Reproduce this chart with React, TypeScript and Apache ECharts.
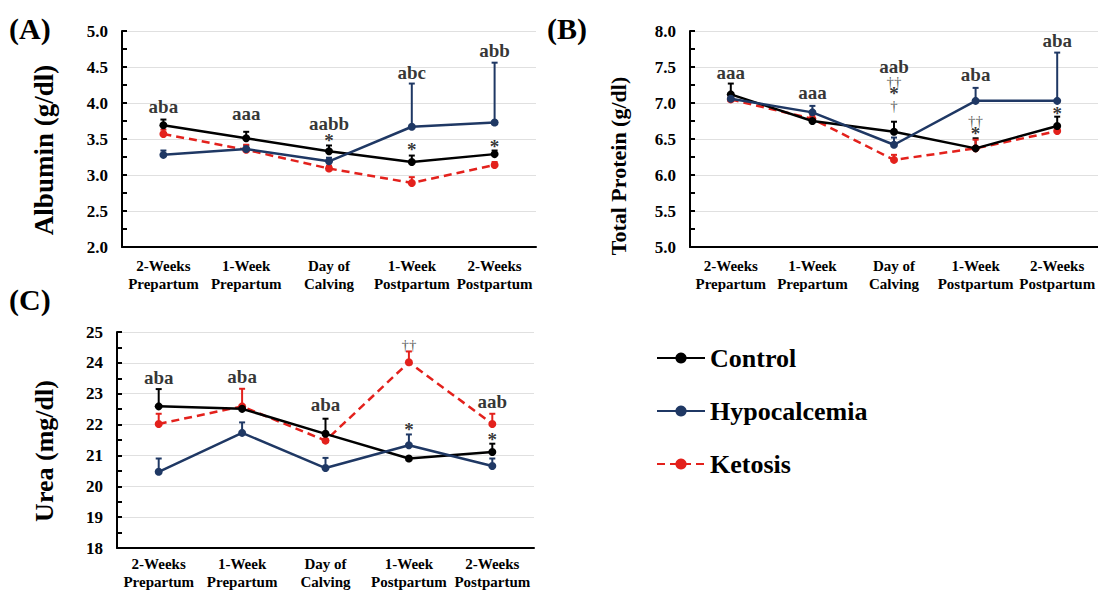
import React, { useEffect, useRef } from 'react';
import * as echarts from 'echarts';

const categories = ['2-Weeks\nPrepartum', '1-Week\nPrepartum', 'Day of\nCalving', '1-Week\nPostpartum', '2-Weeks\nPostpartum'];
const groups = ['Control', 'Hypocalcemia', 'Ketosis'];

// (A) Albumin (g/dl): means and SE (upper bar)
const albuminControl = [3.69, 3.51, 3.33, 3.18, 3.29];
const albuminControlSE = [0.08, 0.09, 0.08, 0.09, 0.05];
const albuminHypo = [3.28, 3.36, 3.19, 3.67, 3.73];
const albuminHypoSE = [0.06, 0.05, 0.05, 0.6, 0.83];
const albuminKeto = [3.57, 3.35, 3.09, 2.89, 3.14];
const albuminKetoSE = [0.06, 0.07, 0.04, 0.08, 0.04];
const albuminTicks = { min: 2, max: 5, interval: 0.5 };
const albuminNotes: [number, number, string][] = [
  [0, 3.95, 'aba'], [1, 3.85, 'aaa'], [2, 3.71, 'aabb'], [2, 3.48, '*'],
  [3, 4.42, 'abc'], [3, 3.35, '*'], [4, 4.73, 'abb'], [4, 3.4, '*'],
];

// (B) Total Protein (g/dl)
const proteinControl = [7.12, 6.75, 6.6, 6.37, 6.68];
const proteinControlSE = [0.15, 0.03, 0.14, 0.14, 0.13];
const proteinHypo = [7.06, 6.87, 6.42, 7.03, 7.03];
const proteinHypoSE = [0.05, 0.09, 0.1, 0.18, 0.67];
const proteinKeto = [7.05, 6.78, 6.21, 6.37, 6.61];
const proteinKetoSE = [0.05, 0.05, 0.07, 0.12, 0.03];
const proteinTicks = { min: 5, max: 8, interval: 0.5 };
const proteinNotes: [number, number, string][] = [
  [0, 7.42, 'aaa'], [1, 7.15, 'aaa'], [2, 7.51, 'aab'], [2, 7.13, '††\n*\n†'],
  [3, 7.4, 'aba'], [3, 6.66, '††\n*'], [4, 7.87, 'aba'], [4, 6.86, '*'],
];

// (C) Urea (mg/dl)
const ureaControl = [22.59, 22.51, 21.7, 20.9, 21.11];
const ureaControlSE = [0.56, 0.05, 0.49, 0.05, 0.27];
const ureaHypo = [20.47, 21.73, 20.59, 21.33, 20.66];
const ureaHypoSE = [0.43, 0.34, 0.33, 0.35, 0.24];
const ureaKeto = [22.02, 22.59, 21.48, 24.02, 22.02];
const ureaKetoSE = [0.33, 0.57, 0.05, 0.35, 0.33];
const ureaTicks = { min: 18, max: 25, interval: 1 };
const ureaNotes: [number, number, string][] = [
  [0, 23.54, 'aba'], [1, 23.56, 'aba'], [2, 22.64, 'aba'], [3, 25.24, 'aab'], [3, 24.59, '††'],
  [3, 21.85, '*'], [4, 22.75, 'aab'], [4, 21.52, '*'],
];

const FONT = '"Liberation Serif", "Times New Roman", serif';
const COLORS = ['#000000', '#1f3864', '#e3211c'];

const panels = [
  {
    label: '(A)', title: 'Albumin (g/dl)', ticks: albuminTicks, notes: albuminNotes, decimals: 1,
    means: [albuminControl, albuminHypo, albuminKeto], ses: [albuminControlSE, albuminHypoSE, albuminKetoSE],
    grid: { left: 122, top: 31, width: 414, height: 216 }, labelMargin: 10,
    titlePos: [44, 150], titleSize: 27, panelPos: [9, 28],
  },
  {
    label: '(B)', title: 'Total Protein (g/dl)', ticks: proteinTicks, notes: proteinNotes, decimals: 1,
    means: [proteinControl, proteinHypo, proteinKeto], ses: [proteinControlSE, proteinHypoSE, proteinKetoSE],
    grid: { left: 690, top: 31, width: 412, height: 216 }, labelMargin: 10,
    titlePos: [618, 166], titleSize: 22, panelPos: [547, 28],
  },
  {
    label: '(C)', title: 'Urea (mg/dl)', ticks: ureaTicks, notes: ureaNotes, decimals: 0,
    means: [ureaControl, ureaHypo, ureaKeto], ses: [ureaControlSE, ureaHypoSE, ureaKetoSE],
    grid: { left: 117, top: 332, width: 417, height: 216 }, labelMargin: 7,
    titlePos: [44, 451], titleSize: 26, panelPos: [9, 299],
  },
];

function noteFormatter(q: any) {
  const t: string = q.value[2];
  return t
    .split('\n')
    .map((line) => {
      if (line.indexOf('†') >= 0) return `{d|${line}}`;
      if (line === '*') return `{s|${line}}`;
      return `{t|${line}}`;
    })
    .join('\n');
}

function buildOption() {
  const grids: any[] = [];
  const xAxes: any[] = [];
  const yAxes: any[] = [];
  const series: any[] = [];
  const graphics: any[] = [];

  panels.forEach((p, i) => {
    grids.push({ ...p.grid, containLabel: false });
    xAxes.push({
      type: 'category', gridIndex: i, data: categories, boundaryGap: true,
      axisLine: { lineStyle: { color: '#000', width: 2 } },
      axisTick: { alignWithLabel: true, length: 5, lineStyle: { color: '#000', width: 2 } },
      axisLabel: {
        interval: 0, color: '#000', fontFamily: FONT, fontWeight: 'bold', fontSize: 15,
        lineHeight: 18, margin: p.labelMargin,
      },
      splitLine: { show: false },
    });
    yAxes.push({
      type: 'value', gridIndex: i, min: p.ticks.min, max: p.ticks.max, interval: p.ticks.interval,
      axisLine: { show: true, lineStyle: { color: '#000', width: 2 } },
      axisTick: { show: true, inside: true, length: 5, lineStyle: { color: '#000', width: 2 } },
      minorTick: { show: true, splitNumber: 2, length: 5, lineStyle: { color: '#000', width: 2 } },
      axisLabel: {
        color: '#000', fontFamily: FONT, fontWeight: 'bold', fontSize: 17, margin: 14,
        formatter: (v: number) => v.toFixed(p.decimals),
      },
      splitLine: { show: true, lineStyle: { color: '#e0e0e0', width: 1 } },
    });

    // error bars first (under lines)
    p.means.forEach((m, g) => {
      const color = COLORS[g];
      series.push({
        type: 'custom', name: groups[g] + ' SE', xAxisIndex: i, yAxisIndex: i, z: 3,
        data: m.map((v, k) => [k, v, +(v + p.ses[g][k]).toFixed(3)]),
        encode: { x: 0, y: [1, 2] },
        renderItem: (_params: any, api: any) => {
          const x = api.value(0);
          const p0 = api.coord([x, api.value(1)]);
          const p1 = api.coord([x, api.value(2)]);
          return {
            type: 'group',
            children: [
              { type: 'line', shape: { x1: p0[0], y1: p0[1], x2: p1[0], y2: p1[1] }, style: { stroke: color, lineWidth: 2 } },
              { type: 'line', shape: { x1: p1[0] - 3, y1: p1[1], x2: p1[0] + 3, y2: p1[1] }, style: { stroke: color, lineWidth: 2 } },
            ],
          };
        },
      });
    });
    p.means.forEach((m, g) => {
      series.push({
        type: 'line', name: groups[g], xAxisIndex: i, yAxisIndex: i, data: m,
        symbol: 'circle', symbolSize: 8, z: g === 2 ? 4 : 5,
        itemStyle: { color: COLORS[g] },
        lineStyle: { color: COLORS[g], width: 2.5, type: g === 2 ? [8, 5] : 'solid' },
      });
    });
    series.push({
      type: 'scatter', name: 'notes', xAxisIndex: i, yAxisIndex: i, z: 10,
      symbolSize: 1, itemStyle: { color: 'rgba(255,255,255,0)' }, silent: true,
      data: p.notes.map((n) => ({ value: n })),
      label: {
        show: true, position: 'inside', formatter: noteFormatter,
        color: '#000', textBorderWidth: 0,
        rich: {
          t: { color: '#000', fontFamily: FONT, fontWeight: 'bold', fontSize: 19, lineHeight: 18, textBorderWidth: 0 },
          s: { color: '#000', fontFamily: FONT, fontWeight: 'bold', fontSize: 19, lineHeight: 12, textBorderWidth: 0 },
          d: { color: '#333', fontFamily: FONT, fontWeight: 'normal', fontSize: 15, lineHeight: 12, textBorderWidth: 0 },
        },
      },
    });

    graphics.push({
      type: 'text', x: p.titlePos[0], y: p.titlePos[1], rotation: Math.PI / 2,
      style: {
        text: p.title, fill: '#000', font: `bold ${p.titleSize}px ${FONT}`,
        textAlign: 'center', textVerticalAlign: 'middle',
      },
    });
    graphics.push({
      type: 'text', x: p.panelPos[0], y: p.panelPos[1],
      style: { text: p.label, fill: '#000', font: `bold 30px ${FONT}`, textAlign: 'left', textVerticalAlign: 'middle' },
    });
  });

  return {
    animation: false,
    backgroundColor: '#ffffff',
    grid: grids,
    xAxis: xAxes,
    yAxis: yAxes,
    series,
    graphic: graphics,
    legend: {
      data: groups, orient: 'vertical', left: 651, top: 340, itemGap: 27,
      itemWidth: 48, itemHeight: 14, selectedMode: false,
      textStyle: { color: '#000', fontFamily: FONT, fontWeight: 'bold', fontSize: 26 },
    },
  };
}

export default function App() {
  const ref = useRef<HTMLDivElement>(null);
  useEffect(() => {
    if (!ref.current) return;
    const chart = echarts.init(ref.current, undefined, { renderer: 'svg' });
    chart.setOption(buildOption() as any);
    return () => chart.dispose();
  }, []);
  return (
    <div
      ref={ref}
      style={{ position: 'fixed', left: 0, top: 0, width: 1098, height: 593, background: '#fff' }}
    />
  );
}
